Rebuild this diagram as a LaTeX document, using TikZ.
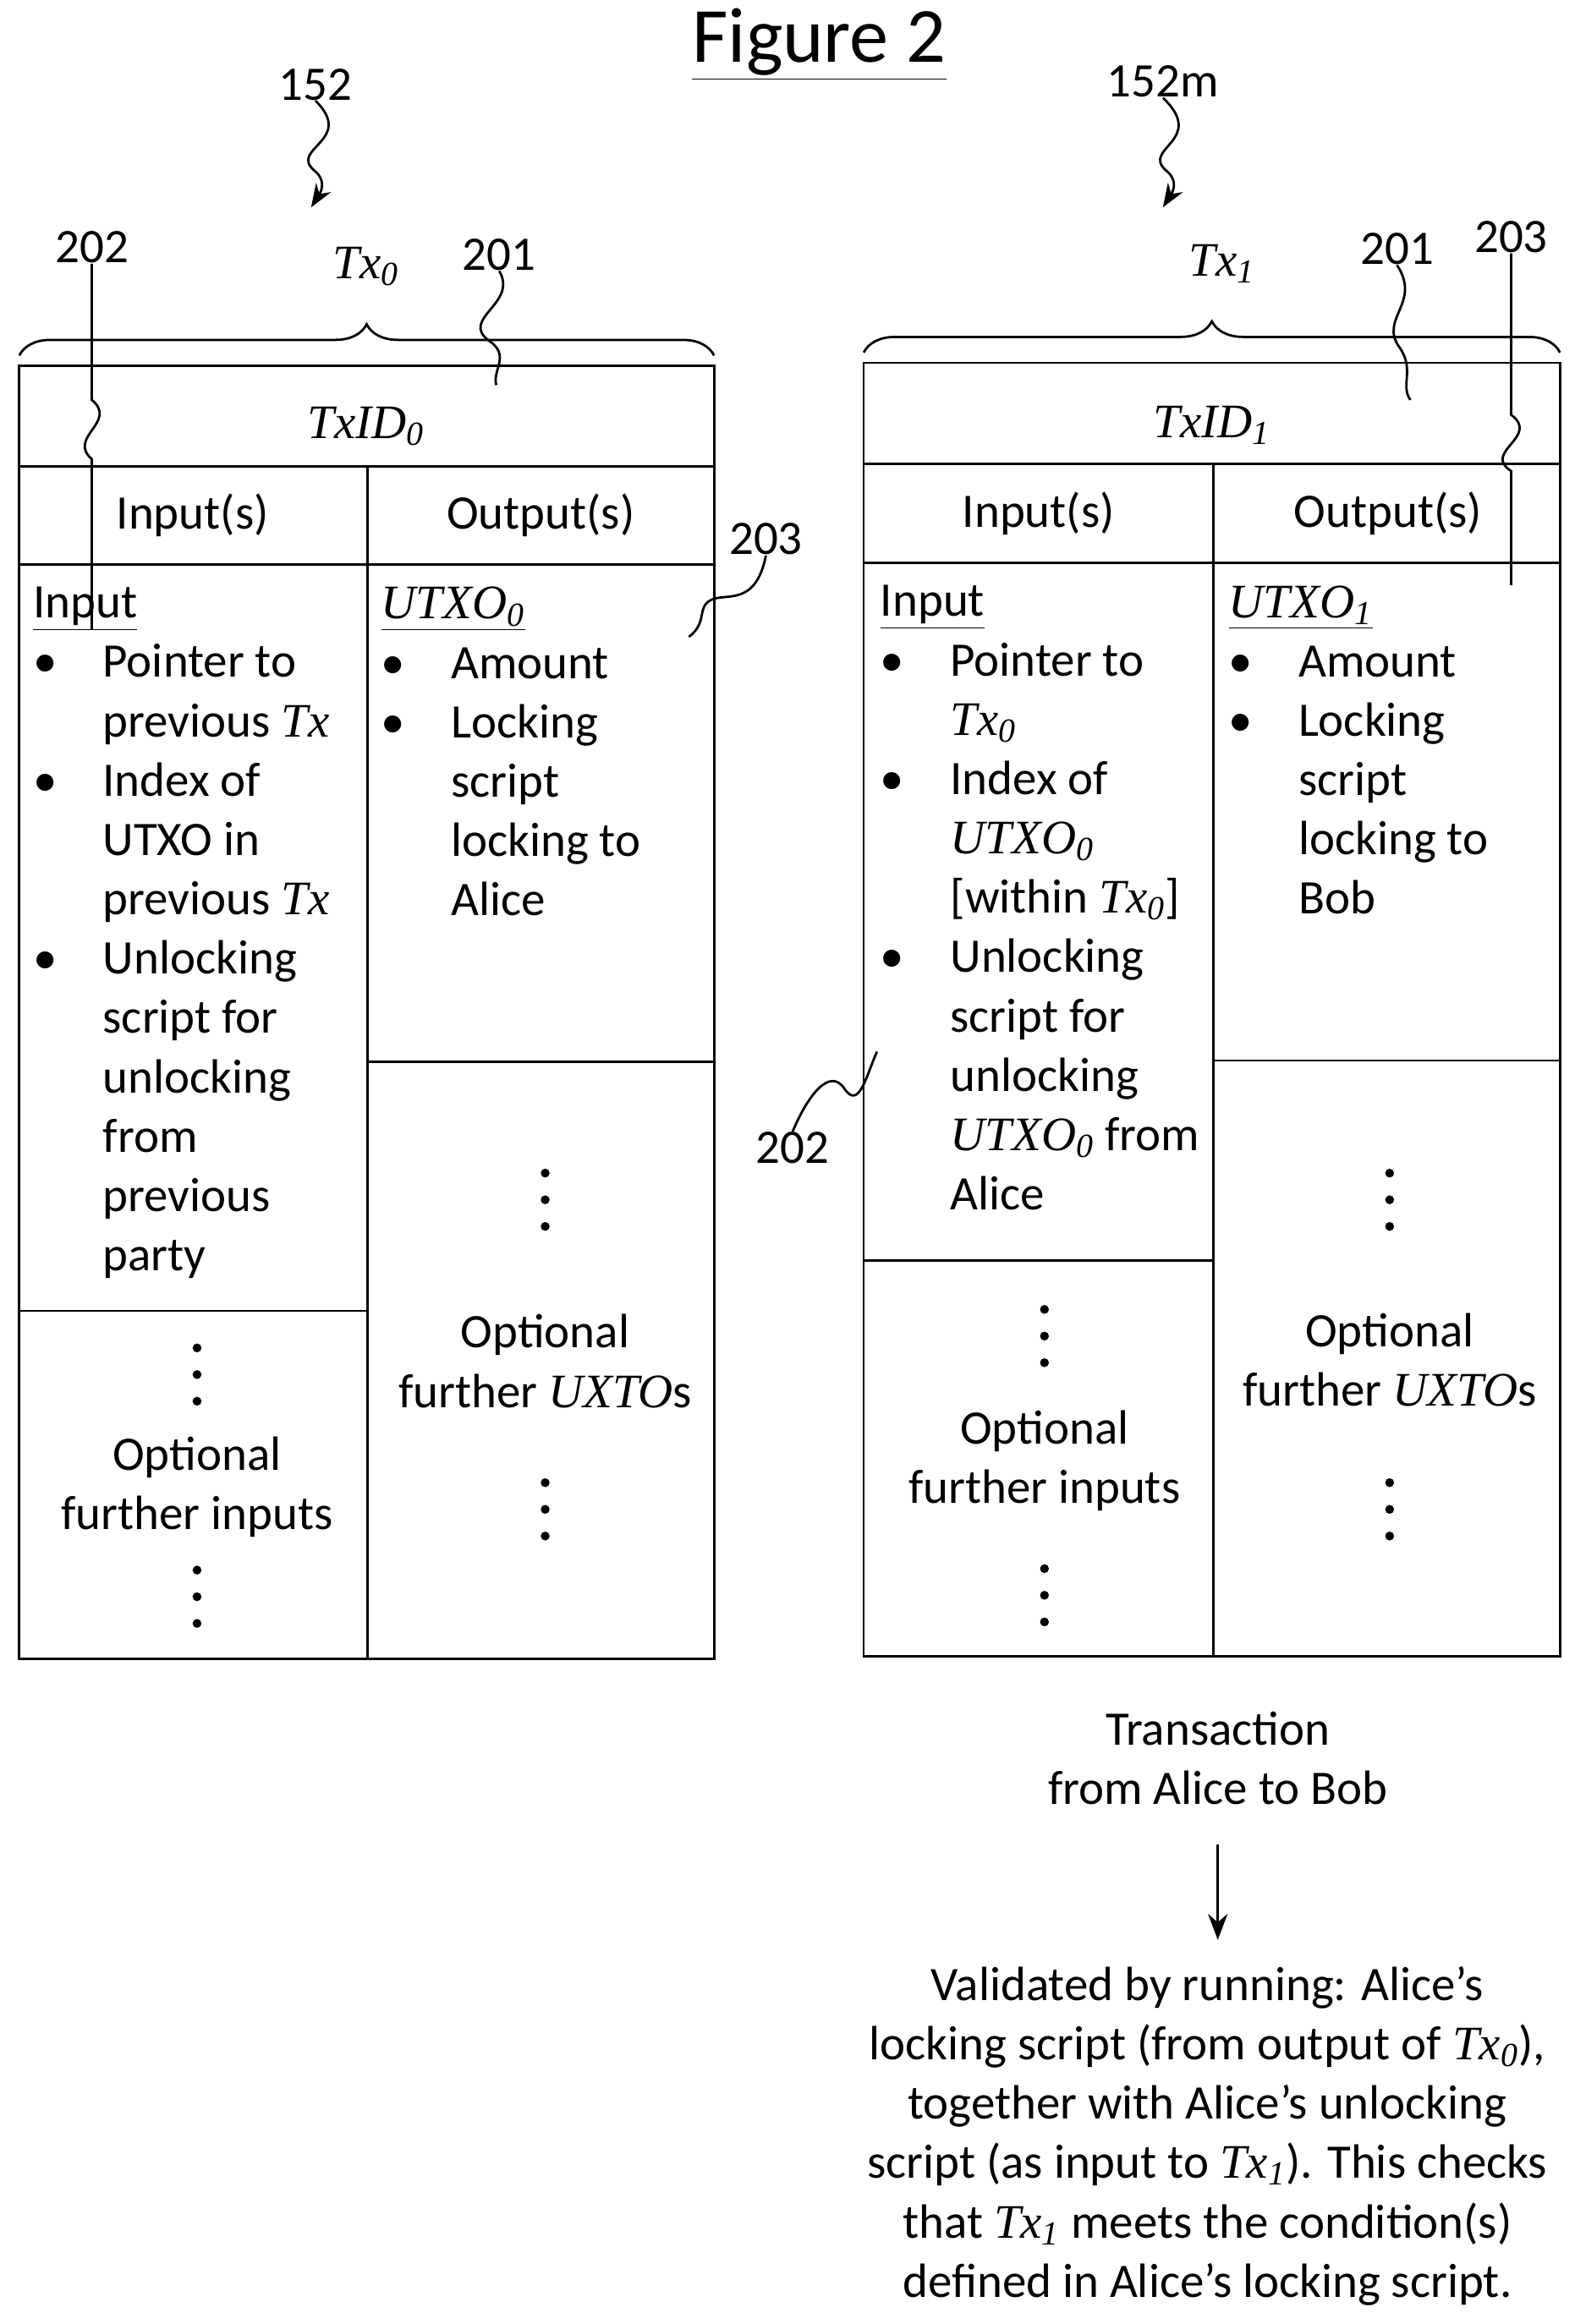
\documentclass[tikz,border=0pt]{standalone}
\usepackage{fontspec}
\setmainfont{Carlito}
\newfontfamily\txf{Liberation Serif}
\usetikzlibrary{arrows.meta,decorations.pathreplacing}
\newcommand{\tx}[1]{{\txf\itshape #1}}
\newcommand{\bl}{\makebox[1.45em][l]{\textbullet}}
\newcommand{\ind}{\hspace*{1.45em}}

\begin{document}
\begin{tikzpicture}[x=0.02cm,y=-0.02cm,
	txt/.style={font=\fontsize{18.5}{22.8}\selectfont, inner sep=0pt, align=center},
	body/.style={txt, align=left, anchor=north west},
	box/.style={line width=0.9pt},
	wig/.style={line width=0.9pt}]
	\useasboundingbox (0,0) rectangle (1070,1569);

	% title
	\node[txt, font=\fontsize{30}{34}\selectfont] (title) at (553,30) {\underline{Figure 2}};

	% left transaction
	\draw[box] (13,247) rectangle (482,1120);
	\draw[box] (13,315) -- (482,315) (13,381) -- (482,381);
	\draw[box] (248,315) -- (248,1120);
	\draw[box] (13,885) -- (248,885) (248,717) -- (482,717);
	\node[txt] (id0) at (247,288) {\tx{TxID\textsubscript{0}}};
	\node[txt] (in0) at (130,348) {Input(s)};
	\node[txt] (out0) at (365,348) {Output(s)};
	\node[body] (inb0) at (22,396) {\underline{Input}\\ \bl Pointer to\\ \ind previous \tx{Tx}\\ \bl Index of\\ \ind UTXO in\\ \ind previous \tx{Tx}\\ \bl Unlocking\\ \ind script for\\ \ind unlocking\\ \ind from\\ \ind previous\\ \ind party};
	\node[body] (outb0) at (257,396) {\underline{\tx{UTXO\textsubscript{0}}}\\ \bl Amount\\ \bl Locking\\ \ind script\\ \ind locking to\\ \ind Alice};
	\node[txt] (fin0) at (133,1004) {Optional\\further inputs};
	\node[txt] (fout0) at (368,919) {Optional\\further \tx{UXTO}s};
	\foreach \y in {910,928,946,1060,1078,1096} \fill (133,\y) circle[radius=3];
	\foreach \y in {792,810,828,1001,1019,1037} \fill (368,\y) circle[radius=3];
	\draw[decorate, decoration={brace, amplitude=12}, line width=0.9pt] (13,240) -- (482,240);
	\node[txt] (tx0) at (247,180) {\tx{Tx\textsubscript{0}}};

	% right transaction
	\draw[box] (583,245) rectangle (1053,1118);
	\draw[box] (583,313) -- (1053,313) (583,380) -- (1053,380);
	\draw[box] (819,313) -- (819,1118);
	\draw[box] (583,851) -- (819,851) (819,716) -- (1053,716);
	\node[txt] (id1) at (818,287) {\tx{TxID\textsubscript{1}}};
	\node[txt] (in1) at (701,347) {Input(s)};
	\node[txt] (out1) at (937,347) {Output(s)};
	\node[body] (inb1) at (594,395) {\underline{Input}\\ \bl Pointer to\\ \ind \tx{Tx\textsubscript{0}}\\ \bl Index of\\ \ind \tx{UTXO\textsubscript{0}}\\ \ind [within \tx{Tx\textsubscript{0}}]\\ \bl Unlocking\\ \ind script for\\ \ind unlocking\\ \ind \tx{UTXO\textsubscript{0}} from\\ \ind Alice};
	\node[body] (outb1) at (829,395) {\underline{\tx{UTXO\textsubscript{1}}}\\ \bl Amount\\ \bl Locking\\ \ind script\\ \ind locking to\\ \ind Bob};
	\node[txt] (fin1) at (705,986) {Optional\\further inputs};
	\node[txt] (fout1) at (938,918) {Optional\\further \tx{UXTO}s};
	\foreach \y in {884,902,920,1059,1077,1095} \fill (705,\y) circle[radius=3];
	\foreach \y in {792,810,828,1001,1019,1037} \fill (938,\y) circle[radius=3];
	\draw[decorate, decoration={brace, amplitude=12}, line width=0.9pt] (583,238) -- (1053,238);
	\node[txt] (tx1) at (825,178) {\tx{Tx\textsubscript{1}}};

	% reference labels
	\node[txt] (r152) at (213,57) {152};
	\node[txt] (r152m) at (785,55) {152m};
	\node[txt] (r202a) at (62,167) {202};
	\node[txt] (r201a) at (337,172) {201};
	\node[txt] (r203a) at (517,364) {203};
	\node[txt] (r201b) at (943,168) {201};
	\node[txt] (r203b) at (1020,160) {203};
	\node[txt] (r202b) at (535,775) {202};
	\coordinate (e152) at (210,140);
	\coordinate (e152m) at (785,140);
	\coordinate (e202a) at (62,425);
	\coordinate (e201a) at (335,260);
	\coordinate (e203a) at (465,430);
	\coordinate (e201b) at (952,270);
	\coordinate (e203b) at (1020,395);
	\coordinate (e202b) at (592,710);
	\draw[wig, -{Stealth[length=9pt]}] (r152.south) .. controls (240,95) and (195,100) .. (212,115) .. controls (222,123) and (215,132) .. (e152);
	\draw[wig, -{Stealth[length=9pt]}] (r152m.south) .. controls (815,95) and (770,100) .. (787,115) .. controls (797,123) and (790,132) .. (e152m);
	\draw[wig] (r202a.south) -- (62,270) .. controls (80,285) and (45,295) .. (62,310) -- (e202a);
	\draw[wig] (r201a.south) .. controls (350,205) and (310,215) .. (330,230) .. controls (345,240) and (332,250) .. (e201a);
	\draw[wig] (r203a.south) .. controls (510,410) and (490,400) .. (480,405) .. controls (470,410) and (478,420) .. (e203a);
	\draw[wig] (r201b.south) .. controls (960,205) and (930,215) .. (945,235) .. controls (955,250) and (945,260) .. (e201b);
	\draw[wig] (r203b.south) -- (1020,280) .. controls (1040,295) and (1000,305) .. (1020,318) -- (e203b);
	\draw[wig] (r202b.north) .. controls (545,740) and (560,720) .. (570,735) .. controls (580,750) and (585,725) .. (e202b);

	% validation
	\node[txt] (trans) at (822,1187) {Transaction\\from Alice to Bob};
	\node[txt] (valid) at (815,1442) {Validated by running: Alice's\\locking script (from output of \tx{Tx\textsubscript{0}}),\\together with Alice's unlocking\\script (as input to \tx{Tx\textsubscript{1}}). This checks\\that \tx{Tx\textsubscript{1}} meets the condition(s)\\defined in Alice's locking script.};
	\coordinate (arr) at (822,1245);
	\draw[wig, -{Stealth[length=10pt]}] (arr) -- ([yshift=10pt]valid.north -| arr);
\end{tikzpicture}
\end{document}
